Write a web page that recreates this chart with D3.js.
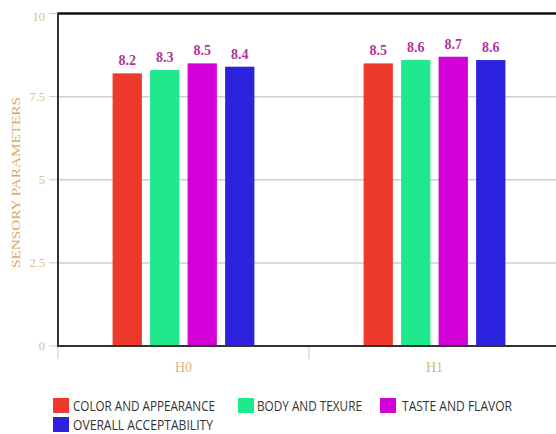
<!DOCTYPE html>
<html><head><meta charset="utf-8">
<script src="https://cdn.jsdelivr.net/npm/d3@7"></script>
<style>body{margin:0;background:#fff}svg{display:block}</style>
</head><body>
<svg id="c" width="556" height="434"></svg>
<script>
const categories = ["H0", "H1"];
const seriesNames = ["COLOR AND APPEARANCE", "BODY AND TEXURE", "TASTE AND FLAVOR", "OVERALL ACCEPTABILITY"];
const colorAppearance = [8.2, 8.5];
const bodyTexture = [8.3, 8.6];
const tasteFlavor = [8.5, 8.7];
const overallAcceptability = [8.4, 8.6];
const yTicks = [0, 2.5, 5, 7.5, 10];
const colors = ["#ee3a2d", "#1fe88d", "#d400d8", "#2d23df"];

const series = [colorAppearance, bodyTexture, tasteFlavor, overallAcceptability];
const svg = d3.select("#c");
const L = 58, R = 560, T = 13.5, B = 346;

const x0 = d3.scaleBand().domain(categories).range([L, R]).padding(0);
const x1 = d3.scaleBand().domain(seriesNames).range([0, x0.bandwidth()]).paddingInner(0.219).paddingOuter(1.456);
const y = d3.scaleLinear().domain([0, 10]).range([B, T]);

// gridlines
svg.append("g").selectAll("line").data(yTicks.filter(d => d > 0 && d < 10)).join("line")
  .attr("x1", L).attr("x2", 556).attr("y1", d => y(d)).attr("y2", d => y(d))
  .attr("stroke", "#cfcfcf").attr("stroke-width", 1.5);

// y ticks
svg.append("g").selectAll("line").data(yTicks).join("line")
  .attr("x1", 49).attr("x2", L).attr("y1", d => y(d)).attr("y2", d => y(d))
  .attr("stroke", "#c5ccd6").attr("stroke-width", 1);
svg.append("g").selectAll("text").data(yTicks).join("text")
  .attr("x", 45).attr("y", d => y(d) + (d === 10 ? 3 : 0)).attr("dy", "0.35em")
  .attr("text-anchor", "end")
  .attr("font-family", "Liberation Serif, serif").attr("font-size", 12.5)
  .attr("fill", "#dcc088")
  .text(d => d);

// x ticks at band boundaries
svg.append("g").selectAll("line").data(categories).join("line")
  .attr("x1", d => x0(d)).attr("x2", d => x0(d)).attr("y1", B).attr("y2", B + 13)
  .attr("stroke", "#c5ccd6").attr("stroke-width", 1);
svg.append("g").selectAll("text").data(categories).join("text")
  .attr("x", d => x0(d) + x0.bandwidth() / 2).attr("y", 372)
  .attr("text-anchor", "middle")
  .attr("font-family", "Liberation Serif, serif").attr("font-size", 14)
  .attr("fill", "#d8b680")
  .text(d => d);

// bars
const groups = svg.append("g").selectAll("g").data(categories).join("g")
  .attr("transform", d => `translate(${x0(d)},0)`);
groups.each(function(cat, ci) {
  const g = d3.select(this);
  const vals = seriesNames.map((s, si) => ({ s, si, v: series[si][ci] }));
  g.selectAll("rect").data(vals).join("rect")
    .attr("x", d => x1(d.s)).attr("width", x1.bandwidth())
    .attr("y", d => y(d.v)).attr("height", d => y(0) - y(d.v))
    .attr("fill", d => colors[d.si]);
  g.selectAll("text").data(vals).join("text")
    .attr("x", d => x1(d.s) + x1.bandwidth() / 2).attr("y", d => y(d.v) - 8)
    .attr("text-anchor", "middle")
    .attr("font-family", "Liberation Serif, serif").attr("font-weight", "bold").attr("font-size", 14)
    .attr("fill", "#b0359f")
    .text(d => d.v.toFixed(1));
});

// axes lines
svg.append("line").attr("x1", L).attr("x2", 556).attr("y1", T).attr("y2", T).attr("stroke", "#111").attr("stroke-width", 2.5);
svg.append("line").attr("x1", L).attr("x2", L).attr("y1", T - 1).attr("y2", B + 1).attr("stroke", "#333").attr("stroke-width", 2);
svg.append("line").attr("x1", L).attr("x2", 556).attr("y1", B).attr("y2", B).attr("stroke", "#333").attr("stroke-width", 2);

// y title
svg.append("text")
  .attr("transform", `translate(20,${(97 + 268) / 2}) rotate(-90)`)
  .attr("text-anchor", "middle")
  .attr("font-family", "Liberation Serif, serif").attr("font-size", 12)
  .attr("textLength", 171).attr("lengthAdjust", "spacingAndGlyphs")
  .attr("fill", "#d9a955")
  .text("SENSORY PARAMETERS");

// legend
const legendPos = [
  { x: 53, y: 398, tx: 73, tl: 142 },
  { x: 238, y: 398, tx: 257, tl: 105 },
  { x: 380, y: 398, tx: 402, tl: 110 },
  { x: 53, y: 417, tx: 73, tl: 140 }
];
const lg = svg.append("g").selectAll("g").data(seriesNames).join("g");
lg.append("rect").attr("x", (d, i) => legendPos[i].x).attr("y", (d, i) => legendPos[i].y)
  .attr("width", 16).attr("height", 15).attr("fill", (d, i) => colors[i]);
lg.append("text").attr("x", (d, i) => legendPos[i].tx).attr("y", (d, i) => legendPos[i].y + 12.5)
  .attr("font-family", "Open Sans, sans-serif").attr("font-size", 14.5)
  .attr("textLength", (d, i) => legendPos[i].tl).attr("lengthAdjust", "spacingAndGlyphs")
  .attr("fill", "#333")
  .text(d => d);
</script>
</body></html>
